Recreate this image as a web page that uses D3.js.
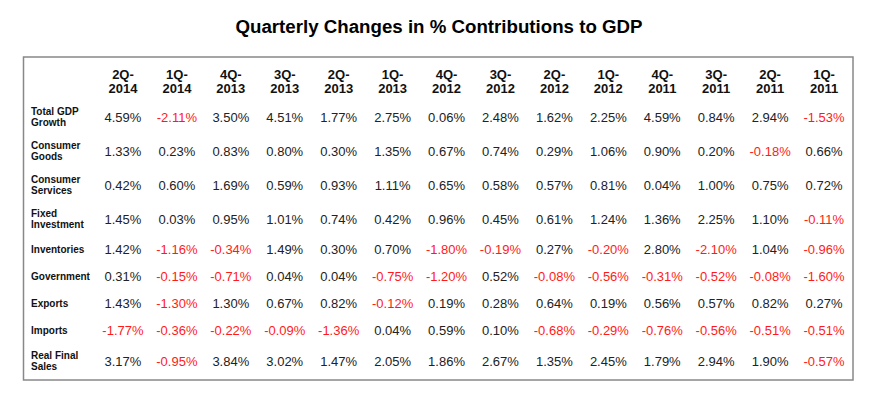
<!DOCTYPE html>
<html>

<head>
    <title>Quarterly Changes in % Contributions to GDP</title>
    <script src="https://d3js.org/d3.v7.min.js"></script>
    <style>
        body {
            margin: 0;
            background: #fff;
        }

        text {
            font-family: Arial, "Liberation Sans", sans-serif;
        }

        .title {
            font-size: 18.7px;
            font-weight: bold;
        }

        .head {
            font-size: 13px;
            font-weight: bold;
        }

        .label {
            font-size: 10px;
            font-weight: bold;
        }

        .val {
            font-size: 13px;
        }
    </style>
</head>

<body>
    <svg width="882" height="403"></svg>

    <script>
        // quarters, newest first
        const quarters = ["2Q-2014", "1Q-2014", "4Q-2013", "3Q-2013", "2Q-2013", "1Q-2013", "4Q-2012",
            "3Q-2012", "2Q-2012", "1Q-2012", "4Q-2011", "3Q-2011", "2Q-2011", "1Q-2011"];

        // row labels, "|" marks a line break
        const components = ["Total GDP|Growth", "Consumer|Goods", "Consumer|Services", "Fixed|Investment",
            "Inventories", "Government", "Exports", "Imports", "Real Final|Sales"];

        const totalGdp = [4.59, -2.11, 3.50, 4.51, 1.77, 2.75, 0.06, 2.48, 1.62, 2.25, 4.59, 0.84, 2.94, -1.53];
        const consumerGoods = [1.33, 0.23, 0.83, 0.80, 0.30, 1.35, 0.67, 0.74, 0.29, 1.06, 0.90, 0.20, -0.18, 0.66];
        const consumerServices = [0.42, 0.60, 1.69, 0.59, 0.93, 1.11, 0.65, 0.58, 0.57, 0.81, 0.04, 1.00, 0.75, 0.72];
        const fixedInvestment = [1.45, 0.03, 0.95, 1.01, 0.74, 0.42, 0.96, 0.45, 0.61, 1.24, 1.36, 2.25, 1.10, -0.11];
        const inventories = [1.42, -1.16, -0.34, 1.49, 0.30, 0.70, -1.80, -0.19, 0.27, -0.20, 2.80, -2.10, 1.04, -0.96];
        const government = [0.31, -0.15, -0.71, 0.04, 0.04, -0.75, -1.20, 0.52, -0.08, -0.56, -0.31, -0.52, -0.08, -1.60];
        const exportsRow = [1.43, -1.30, 1.30, 0.67, 0.82, -0.12, 0.19, 0.28, 0.64, 0.19, 0.56, 0.57, 0.82, 0.27];
        const importsRow = [-1.77, -0.36, -0.22, -0.09, -1.36, 0.04, 0.59, 0.10, -0.68, -0.29, -0.76, -0.56, -0.51, -0.51];
        const realFinalSales = [3.17, -0.95, 3.84, 3.02, 1.47, 2.05, 1.86, 2.67, 1.35, 2.45, 1.79, 2.94, 1.90, -0.57];

        const values = [totalGdp, consumerGoods, consumerServices, fixedInvestment, inventories,
            government, exportsRow, importsRow, realFinalSales];

        const svg = d3.select("svg"),
            width = +svg.attr("width");

        svg.append("text")
            .attr("class", "title")
            .attr("x", width / 2 - 2)
            .attr("y", 33)
            .attr("text-anchor", "middle")
            .text("Quarterly Changes in % Contributions to GDP");

        // table frame
        svg.append("rect")
            .attr("x", 23.5)
            .attr("y", 57)
            .attr("width", 829.5)
            .attr("height", 323)
            .attr("fill", "none")
            .attr("stroke", "#888")
            .attr("stroke-width", 1.5);

        const x = d3.scaleBand()
            .domain(quarters)
            .range([96, 851]);

        // rows with two-line labels are taller
        const rowH = components.map(c => c.includes("|") ? 34 : 27);
        const rowTop = [0, ...d3.cumsum(rowH)].map(v => v + 100);
        const rowMid = i => rowTop[i] + rowH[i] / 2;

        // column headers
        const head = svg.append("g")
            .selectAll("text")
            .data(quarters)
            .join("text")
            .attr("class", "head")
            .attr("text-anchor", "middle")
            .attr("fill", "#111")
            .attr("transform", d => `translate(${x(d) + x.bandwidth() / 2}, 79)`);

        head.selectAll("tspan")
            .data(d => {
                const p = d.split("-");
                return [p[0] + "-", p[1]];
            })
            .join("tspan")
            .attr("x", 0)
            .attr("y", (d, i) => i * 13.5)
            .text(d => d);

        // row labels
        const label = svg.append("g")
            .selectAll("text")
            .data(components)
            .join("text")
            .attr("class", "label")
            .attr("fill", "#111")
            .attr("transform", (d, i) => `translate(31, ${rowMid(i)})`);

        label.selectAll("tspan")
            .data(d => {
                const lines = d.split("|");
                return lines.map((t, j) => ({ t, dy: 3.5 + (j - (lines.length - 1) / 2) * 11 }));
            })
            .join("tspan")
            .attr("x", 0)
            .attr("y", d => d.dy)
            .text(d => d.t);

        // cells
        const fmt = d3.format(".2f");
        svg.append("g")
            .selectAll("g")
            .data(values)
            .join("g")
            .attr("transform", (d, i) => `translate(0, ${rowMid(i)})`)
            .selectAll("text")
            .data(d => d.map((v, j) => ({ v, q: quarters[j] })))
            .join("text")
            .attr("class", "val")
            .attr("x", d => x(d.q) + x.bandwidth() / 2)
            .attr("dy", "0.35em")
            .attr("text-anchor", "middle")
            .attr("fill", d => d.v < 0 ? "#ff1a1a" : "#222")
            .text(d => (d.v < 0 ? "-" : "") + fmt(Math.abs(d.v)) + "%");
    </script>

</body>

</html>
